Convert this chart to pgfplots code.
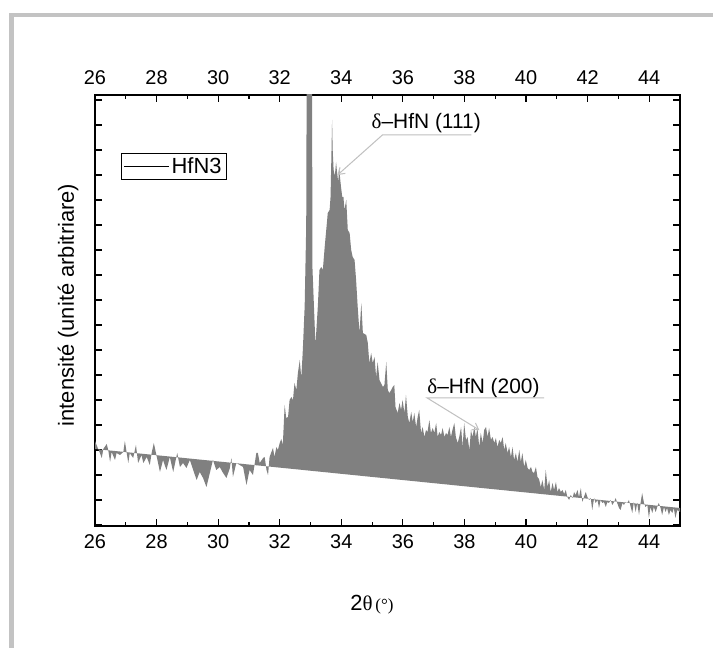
\documentclass[border=0pt]{standalone}
\usepackage{fontspec}
\setmainfont{Liberation Sans}
\newfontfamily\serifgr{Liberation Serif}
\usepackage{pgfplots}
\pgfplotsset{compat=1.18}
\usetikzlibrary{arrows.meta}
\definecolor{fillgray}{RGB}{128,128,128}
\definecolor{framegray}{RGB}{195,195,195}
\definecolor{arrowgray}{RGB}{192,192,192}
\begin{document}
\begin{tikzpicture}
\path[use as bounding box] (0,0) rectangle (713bp,648bp);
\fill[white] (0,0) rectangle (713bp,648bp);
\fill[framegray] (9bp,0) rectangle (14bp,635bp);
\fill[framegray] (9bp,631bp) rectangle (713bp,635bp);
\begin{axis}[
  at={(95bp,122bp)}, anchor=south west, scale only axis,
  width=585bp, height=431bp,
  xmin=26, xmax=45, ymin=0, ymax=431,
  xtick={26,28,...,44}, minor xtick={27,29,...,45},
  ytick={1,26,...,426}, yticklabels={},
  tick align=inside, xtick pos=both, ytick pos=both, xticklabel pos=left,
  major tick length=7bp, minor tick length=4bp,
  tick style={black, line width=1.2bp},
  axis line style={line width=1.6bp},
  tick label style={font=\fontsize{20}{22}\selectfont},
  /pgf/number format/assume math mode=true,
  xticklabel style={yshift=-5bp},
  legend style={at={(axis description cs:0.044,0.865)}, anchor=north west, draw=black, line width=0.6bp, inner xsep=3bp, inner ysep=2bp, font=\fontsize{22}{24}\selectfont, nodes={font=\fontsize{22}{24}\selectfont}, cells={anchor=west}},
  legend image code/.code={\draw[black, line width=0.6bp] (0bp,0bp) -- (45bp,0bp);},
]
\addplot[fill=fillgray, draw=none, forget plot] coordinates {
(26.00,85) (26.05,81) (26.16,73) (26.22,68) (26.27,77) (26.38,82) (26.43,76) (26.49,64) (26.54,74) (26.65,66) (26.70,73) (26.81,71) (26.92,74) (26.97,85) (27.03,73) (27.08,63) (27.13,73) (27.24,68) (27.33,81) (27.40,63) (27.51,71) (27.57,63) (27.68,69) (27.78,61) (27.84,73) (27.91,83) (27.98,73) (28.11,54) (28.21,66) (28.32,56) (28.43,69) (28.54,54) (28.67,73) (28.76,59) (28.86,63) (28.97,58) (29.08,66) (29.19,56) (29.30,46) (29.40,54) (29.51,48) (29.62,39) (29.73,53) (29.83,66) (29.94,56) (30.05,59) (30.16,53) (30.27,48) (30.38,58) (30.43,68) (30.48,49) (30.59,63) (30.70,61) (30.81,59) (30.92,41) (31.02,56) (31.13,51) (31.24,73) (31.29,73) (31.35,63) (31.46,68) (31.51,69) (31.57,56) (31.62,51) (31.67,69) (31.73,74) (31.78,78) (31.83,69) (31.89,79) (31.94,76) (32.00,83) (32.05,87) (32.10,81)
(32.16,121) (32.21,108) (32.27,109) (32.32,126) (32.38,129) (32.43,126) (32.48,143) (32.54,136) (32.59,153) (32.65,166) (32.70,148) (32.75,176) (32.81,220) (32.86,300) (32.88,500) (33.05,500) (33.06,260) (33.16,181) (33.24,221) (33.29,256) (33.35,259) (33.40,256) (33.46,279) (33.51,296) (33.56,313) (33.62,316) (33.65,329) (33.68,373) (33.70,406) (33.72,376) (33.75,356) (33.79,350) (33.83,364) (33.86,354) (33.90,344) (33.93,359) (33.96,348) (33.99,339) (34.03,329) (34.07,329) (34.10,316) (34.16,326) (34.21,296) (34.27,293) (34.32,276) (34.37,269) (34.43,266) (34.48,246) (34.53,220) (34.59,193) (34.65,223) (34.70,193) (34.81,191) (34.86,183) (34.91,163) (34.97,173) (35.02,163) (35.08,169) (35.13,149) (35.18,164) (35.24,146) (35.35,139) (35.40,141) (35.46,164) (35.51,136)
(35.56,133) (35.62,136) (35.67,139) (35.72,141) (35.76,119) (35.83,113) (35.89,123) (35.94,116) (35.99,126) (36.05,113) (36.10,131) (36.16,109) (36.21,103) (36.27,114) (36.32,104) (36.37,113) (36.43,99) (36.48,109) (36.53,116) (36.59,93) (36.64,99) (36.70,89) (36.75,96) (36.80,94) (36.86,106) (36.91,93) (36.97,98) (37.02,93) (37.08,103) (37.13,89) (37.18,94) (37.24,91) (37.29,98) (37.35,89) (37.40,93) (37.45,91) (37.51,99) (37.56,89) (37.61,96) (37.67,103) (37.72,89) (37.78,83) (37.83,89) (37.89,99) (37.94,79) (37.99,103) (38.05,86) (38.10,89) (38.16,76) (38.21,96) (38.26,89) (38.32,99) (38.37,89) (38.42,98) (38.48,79) (38.53,93) (38.59,83) (38.64,96) (38.70,99) (38.75,89) (38.80,98) (38.86,86) (38.91,89) (38.97,83) (39.02,88) (39.07,79) (39.13,86) (39.18,83) (39.24,89) (39.29,76) (39.34,83) (39.40,73) (39.45,79) (39.51,69) (39.56,79) (39.61,66) (39.67,73) (39.72,64) (39.78,76) (39.83,64) (39.88,73) (39.94,59) (39.99,66) (40.05,58) (40.10,56) (40.16,59) (40.21,54) (40.26,53) (40.32,59) (40.37,49) (40.42,47)
(40.48,39) (40.53,46) (40.59,36) (40.64,56) (40.70,39) (40.75,46) (40.80,34) (40.86,43) (40.91,36) (40.97,44) (41.02,34) (41.07,38) (41.13,34) (41.18,36) (41.24,32) (41.29,36) (41.34,29) (41.40,26) (41.45,31) (41.51,28) (41.56,34) (41.61,31) (41.67,36) (41.72,29) (41.78,38) (41.83,24) (41.88,29) (41.94,34) (41.99,29) (42.05,26) (42.10,28) (42.15,16) (42.21,28) (42.26,23) (42.32,26) (42.37,18) (42.42,26) (42.48,23) (42.53,24) (42.59,19) (42.64,24) (42.69,23) (42.75,26) (42.80,21) (42.86,24) (42.91,28) (42.96,23) (43.02,18) (43.07,16) (43.13,23) (43.18,21) (43.23,24) (43.29,23) (43.34,26) (43.40,19) (43.45,13) (43.50,24) (43.56,14) (43.61,23) (43.67,11) (43.72,23) (43.77,33) (43.83,23) (43.88,19) (43.94,21) (43.99,8) (44.04,19) (44.10,13) (44.15,19) (44.21,14) (44.26,19) (44.31,23) (44.37,18) (44.42,11) (44.48,19) (44.53,14) (44.58,18) (44.64,11) (44.69,16) (44.75,13) (44.80,18) (44.85,8) (44.91,16) (45.00,14)
(45.00,18) (26.00,77)
};
\addlegendimage{black}
\addlegendentry{HfN3}
\node[anchor=base west, font=\fontsize{21}{23}\selectfont, inner sep=0pt] at (axis cs:34.98,397) {{\serifgr δ}–HfN (111)};
\draw[arrowgray, line width=1bp, -{Straight Barb[length=6bp,width=8bp]}] (axis cs:38.22,391) -- (axis cs:35.335,391) -- (axis cs:33.877,351);
\node[anchor=base west, font=\fontsize{21}{23}\selectfont, inner sep=0pt] at (axis cs:36.79,132) {{\serifgr δ}–HfN (200)};
\draw[arrowgray, line width=1bp, -{Straight Barb[length=6bp,width=8bp]}] (axis cs:40.59,128) -- (axis cs:36.79,128) -- (axis cs:38.48,96);
\end{axis}
\begin{axis}[
  at={(95bp,122bp)}, anchor=south west, scale only axis,
  width=585bp, height=431bp,
  xmin=26, xmax=45, ymin=0, ymax=431,
  xtick={26,28,...,44}, ytick=\empty,
  xticklabel pos=right, major tick length=0pt,
  axis line style={draw=none}, tick style={draw=none},
  tick label style={font=\fontsize{20}{22}\selectfont},
  /pgf/number format/assume math mode=true,
  xticklabel style={yshift=7bp},
]
\end{axis}
\node[font=\fontsize{22}{24}\selectfont, rotate=90] at (68bp,343bp) {intensité (unité arbitriare)};
\node at (372bp,43bp) {{\fontsize{22}{24}\selectfont 2}{\serifgr\fontsize{21}{23}\selectfont θ} {\serifgr\fontsize{17}{19}\selectfont(°)}};
\end{tikzpicture}
\end{document}
